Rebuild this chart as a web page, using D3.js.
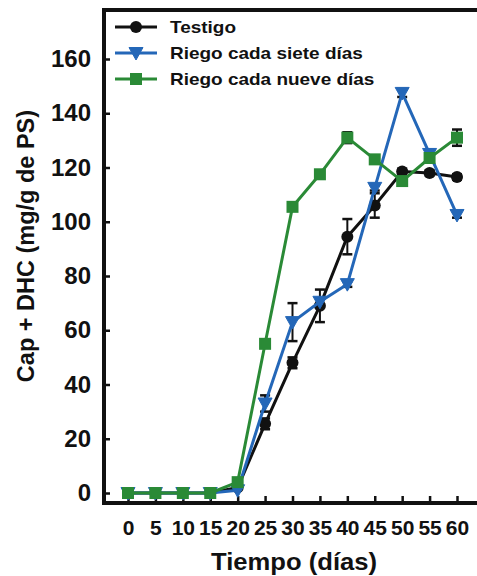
<!DOCTYPE html>
<html>
<head>
<meta charset="utf-8">
<script src="https://cdn.jsdelivr.net/npm/d3@7"></script>
<style>
  html, body { margin: 0; padding: 0; background: #fff; }
  svg { display: block; }
  text { font-family: "Liberation Sans", Arial, Helvetica, sans-serif; font-weight: bold; fill: #111; }
</style>
</head>
<body>
<svg id="chart" width="477" height="576"></svg>
<script>
// Days of measurement
const dias = [0, 5, 10, 15, 20, 25, 30, 35, 40, 45, 50, 55, 60];

// Cap + DHC content (mg/g dry weight) per treatment
const testigo      = [0, 0, 0, 0, 2, 25.5, 48, 69, 94.5, 106, 118.5, 118, 116.5];
const riegoSiete   = [0, 0, 0, 0, 1, 33, 63, 70.5, 77, 112.5, 147.5, 125, 102.5];
const riegoNueve   = [0, 0, 0, 0, 4, 55, 105.5, 117.5, 131, 123, 115, 123.5, 131];

// Standard error (half bar height)
const errTestigo    = [0, 0, 0, 0, 0, 2, 2, 6, 6.5, 4.5, 1, 1, 1];
const errSiete      = [0, 0, 0, 0, 0, 3, 7, 1, 1, 1, 1.5, 1.5, 1];
const errNueve      = [0, 0, 0, 0, 0, 0, 0, 0, 2, 0, 0, 0, 3];

const seriesNames = ["Testigo", "Riego cada siete días", "Riego cada nueve días"];
const yTicks = [0, 20, 40, 60, 80, 100, 120, 140, 160];
const xTicks = dias;

const colors = ["#111111", "#2467b8", "#2a8a36"];
const symbols = [d3.symbolCircle, "triDown", d3.symbolSquare];

const series = seriesNames.map((name, i) => ({
  name,
  color: colors[i],
  symbol: symbols[i],
  values: [testigo, riegoSiete, riegoNueve][i],
  errors: [errTestigo, errSiete, errNueve][i]
}));

const svg = d3.select("#chart");

const frameLeft = 104, frameTop = 10, frameBottom = 503, frameRight = 477;

const x = d3.scaleLinear().domain([0, 60]).range([128, 457]);
const y = d3.scaleLinear().domain([0, 160]).range([493, 59]);

// Marker drawing helper
function marker(g, sym, color) {
  if (sym === "triDown") {
    g.append("path").attr("d", "M-7,-5.5 L7,-5.5 L0,7 Z").attr("fill", color)
      .attr("stroke", color).attr("stroke-width", 1);
  } else if (sym === d3.symbolSquare) {
    g.append("rect").attr("x", -6).attr("y", -6).attr("width", 12).attr("height", 12)
      .attr("fill", color);
  } else {
    g.append("circle").attr("r", 6).attr("fill", color);
  }
}

// Y axis (ticks inward)
const yAxis = svg.append("g")
  .attr("transform", `translate(${frameLeft},0)`)
  .call(d3.axisLeft(y).tickValues(yTicks).tickSize(-6).tickPadding(13));
yAxis.select(".domain").remove();
yAxis.selectAll(".tick line").attr("stroke", "#111").attr("stroke-width", 2.5);
yAxis.selectAll(".tick text").attr("font-size", 24).attr("fill", "#111")
  .style("font-family", '"Liberation Sans", Arial, sans-serif').style("font-weight", "bold");

// X axis (ticks inward)
const xAxis = svg.append("g")
  .attr("transform", `translate(0,${frameBottom})`)
  .call(d3.axisBottom(x).tickValues(xTicks).tickSize(-7).tickPadding(17));
xAxis.select(".domain").remove();
xAxis.selectAll(".tick line").attr("stroke", "#111").attr("stroke-width", 2.5);
xAxis.selectAll(".tick text").attr("font-size", 21).attr("fill", "#111")
  .style("font-family", '"Liberation Sans", Arial, sans-serif').style("font-weight", "bold");

// Frame
const frame = svg.append("g").attr("stroke", "#111").attr("stroke-width", 4).attr("fill", "none");
frame.append("line").attr("x1", frameLeft).attr("x2", frameLeft).attr("y1", frameTop - 2).attr("y2", frameBottom + 2);
frame.append("line").attr("x1", frameLeft - 2).attr("x2", frameRight).attr("y1", frameTop).attr("y2", frameTop);
frame.append("line").attr("x1", frameLeft - 2).attr("x2", frameRight).attr("y1", frameBottom).attr("y2", frameBottom);

// Series
const line = d3.line().x((d, i) => x(dias[i])).y(d => y(d));
series.forEach(s => {
  const g = svg.append("g");
  // error bars
  s.values.forEach((v, i) => {
    const e = s.errors[i];
    if (!e) return;
    const cx = x(dias[i]);
    g.append("line").attr("x1", cx).attr("x2", cx).attr("y1", y(v - e)).attr("y2", y(v + e))
      .attr("stroke", "#111").attr("stroke-width", 2);
    [v - e, v + e].forEach(b => {
      g.append("line").attr("x1", cx - 5).attr("x2", cx + 5).attr("y1", y(b)).attr("y2", y(b))
        .attr("stroke", "#111").attr("stroke-width", 2.5);
    });
  });
  g.append("path").datum(s.values).attr("d", line).attr("fill", "none")
    .attr("stroke", s.color).attr("stroke-width", 3).attr("stroke-linejoin", "round");
  s.values.forEach((v, i) => {
    const m = g.append("g").attr("transform", `translate(${x(dias[i])},${y(v)})`);
    marker(m, s.symbol, s.color);
  });
});

// Legend
const legend = svg.append("g");
const legendY = [27, 53, 79];
series.forEach((s, i) => {
  const row = legend.append("g").attr("transform", `translate(0,${legendY[i]})`);
  row.append("line").attr("x1", 115).attr("x2", 157).attr("y1", 0).attr("y2", 0)
    .attr("stroke", s.color).attr("stroke-width", 3);
  const m = row.append("g").attr("transform", "translate(136,0)");
  marker(m, s.symbol, s.color);
  row.append("text").attr("x", 170).attr("y", 6).attr("font-size", 16.5)
    .attr("transform", "translate(170,0) scale(1.15,1) translate(-170,0)")
    .text(s.name);
});

// Axis titles
svg.append("text").attr("x", 0).attr("y", 0)
  .attr("transform", "translate(294,570) scale(1.09,1)")
  .attr("text-anchor", "middle").attr("font-size", 23.5)
  .text("Tiempo (días)");

svg.append("text")
  .attr("transform", "translate(34,246) rotate(-90)")
  .attr("text-anchor", "middle").attr("font-size", 23.5)
  .text("Cap + DHC (mg/g de PS)");
</script>
</body>
</html>
